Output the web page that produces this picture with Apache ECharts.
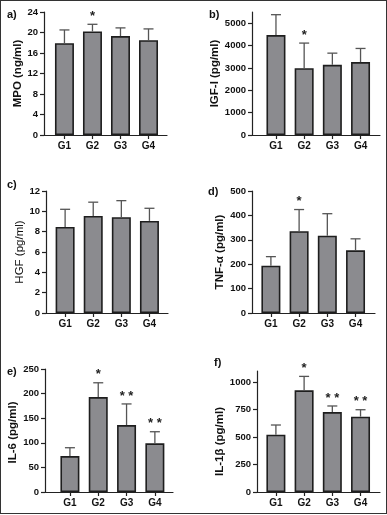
<!DOCTYPE html>
<html><head><meta charset="utf-8">
<script src="https://cdn.jsdelivr.net/npm/echarts@6/dist/echarts.min.js"></script>
<style>
html,body{margin:0;padding:0;background:#fff}
#c{width:387px;height:515px}
#f{position:absolute;left:0;top:0;width:385px;height:512px;border:1px solid #333;pointer-events:none}
</style>
</head><body><div id="c"></div><div id="f"></div>
<script>
const categories = ['G1', 'G2', 'G3', 'G4'];

const mpoMean = [17.9, 20.2, 19.3, 18.5];
const mpoSD = [2.6, 1.4, 1.6, 2.2];
const mpoStars = ['', '*', '', ''];
const mpoTicks = [0, 4, 8, 12, 16, 20, 24];

const igfMean = [4470, 2990, 3140, 3260];
const igfSD = [910, 1120, 520, 610];
const igfStars = ['', '*', '', ''];
const igfTicks = [0, 1000, 2000, 3000, 4000, 5000];

const hgfMean = [8.47, 9.55, 9.42, 9.06];
const hgfSD = [1.73, 1.35, 1.63, 1.24];
const hgfStars = ['', '', '', ''];
const hgfTicks = [0, 2, 4, 6, 8, 10, 12];

const tnfMean = [194, 335, 317, 257];
const tnfSD = [37, 89, 90, 47];
const tnfStars = ['', '*', '', ''];
const tnfTicks = [0, 100, 200, 300, 400, 500];

const il6Mean = [73, 193, 136, 99];
const il6SD = [17, 29, 43, 23.5];
const il6Stars = ['', '*', '* *', '* *'];
const il6Ticks = [0, 50, 100, 150, 200, 250];

const il1bMean = [521, 924, 727, 685];
const il1bSD = [88, 127, 55, 63];
const il1bStars = ['', '*', '* *', '* *'];
const il1bTicks = [0, 250, 500, 750, 1000];

const FONT = '"Liberation Sans", Arial, sans-serif';
const panels = [
  {label: 'a)', name: 'MPO (ng/ml)', mean: mpoMean, sd: mpoSD, stars: mpoStars, ticks: mpoTicks, yMax: 24,
   grid: {left: 44, top: 12, width: 123, height: 123}, xMin: 0.27, xMax: 4.66, lab: [7, 9], nameBold: true, shift: 0},
  {label: 'b)', name: 'IGF-I (pg/ml)', mean: igfMean, sd: igfSD, stars: igfStars, ticks: igfTicks, yMax: 5500,
   grid: {left: 252, top: 12, width: 128, height: 123}, xMin: 0.15, xMax: 4.69, lab: [209, 9], nameBold: true, shift: 0},
  {label: 'c)', name: 'HGF (pg/ml)', mean: hgfMean, sd: hgfSD, stars: hgfStars, ticks: hgfTicks, yMax: 12,
   grid: {left: 46, top: 191, width: 122, height: 122}, xMin: 0.32, xMax: 4.66, lab: [7, 179], nameBold: false, shift: 0},
  {label: 'd)', name: 'TNF-α (pg/ml)', mean: tnfMean, sd: tnfSD, stars: tnfStars, ticks: tnfTicks, yMax: 500,
   grid: {left: 252, top: 191, width: 123, height: 122}, xMin: 0.33, xMax: 4.69, lab: [208, 186], nameBold: true, shift: 0},
  {label: 'e)', name: 'IL-6 (pg/ml)', mean: il6Mean, sd: il6SD, stars: il6Stars, ticks: il6Ticks, yMax: 250,
   grid: {left: 45, top: 369, width: 128, height: 123}, xMin: 0.12, xMax: 4.64, lab: [7, 366], nameBold: true, shift: 4},
  {label: 'f)', name: 'IL-1β (pg/ml)', mean: il1bMean, sd: il1bSD, stars: il1bStars, ticks: il1bTicks, yMax: 1100,
   grid: {left: 257, top: 371, width: 123, height: 121}, xMin: 0.33, xMax: 4.69, lab: [214, 357], nameBold: true, shift: 20}
];

const option = {
  animation: false,
  backgroundColor: '#fff',
  title: [], grid: [], xAxis: [], yAxis: [], series: []
};
const catPos = categories.map((c, j) => j + 1);

panels.forEach((p, i) => {
  option.title.push({text: p.label, left: p.lab[0], top: p.lab[1], padding: 0,
    textStyle: {fontFamily: FONT, fontSize: 11, fontWeight: 'bold', color: '#111'}});
  option.grid.push(Object.assign({containLabel: false}, p.grid));
  option.xAxis.push({
    type: 'value', gridIndex: i, min: p.xMin, max: p.xMax,
    splitLine: {show: false},
    axisLine: {lineStyle: {color: '#222', width: 1.2}},
    axisTick: {length: 4, lineStyle: {color: '#222', width: 1.2}, customValues: catPos},
    axisLabel: {customValues: catPos, margin: 6, color: '#111', fontFamily: FONT, fontSize: 10, fontWeight: 'bold',
      formatter: v => categories[Math.round(v) - 1] || ''}
  });
  option.yAxis.push({
    type: 'value', gridIndex: i, min: 0, max: p.yMax,
    name: p.name, nameLocation: 'middle', nameGap: 15, nameRotate: 90,
    nameTextStyle: {fontFamily: FONT, fontSize: p.nameBold ? 11.5 : 11.5, fontWeight: p.nameBold ? 'bold' : 'normal', color: '#111',
      padding: [0, p.shift, 0, 0]},
    splitLine: {show: false},
    axisLine: {show: true, lineStyle: {color: '#222', width: 1.2}},
    axisTick: {show: true, length: 4, lineStyle: {color: '#222', width: 1.2}, customValues: p.ticks},
    axisLabel: {customValues: p.ticks, margin: 6, color: '#111', fontFamily: FONT, fontSize: 9.5, fontWeight: 'bold',
      formatter: v => String(v)}
  });
  option.series.push({
    type: 'bar', xAxisIndex: i, yAxisIndex: i, barWidth: 19,
    data: p.mean.map((v, j) => [catPos[j], v]),
    itemStyle: {color: '#8b8b8f', borderColor: '#1e1e1e', borderWidth: 1.6}
  });
  const stars = p.stars;
  option.series.push({
    type: 'custom', xAxisIndex: i, yAxisIndex: i, z: 5,
    data: p.mean.map((v, j) => [catPos[j], v, v + p.sd[j]]),
    renderItem: (params, api) => {
      const x = api.value(0);
      const p0 = api.coord([x, api.value(1)]);
      const p1 = api.coord([x, api.value(2)]);
      const st = {stroke: '#555', lineWidth: 1.3};
      const ch = [
        {type: 'line', shape: {x1: p0[0], y1: p0[1], x2: p1[0], y2: p1[1]}, style: st},
        {type: 'line', shape: {x1: p1[0] - 5, y1: p1[1], x2: p1[0] + 5, y2: p1[1]}, style: st}
      ];
      const s = stars[params.dataIndex];
      if (s) ch.push({type: 'text', style: {text: s, x: p1[0], y: p1[1] - 8, align: 'center', verticalAlign: 'middle',
        font: 'bold 13px ' + FONT, fill: '#222'}});
      return {type: 'group', children: ch};
    }
  });
});

const chart = echarts.init(document.getElementById('c'), null, {renderer: 'canvas'});
chart.setOption(option);
</script>
</body></html>
